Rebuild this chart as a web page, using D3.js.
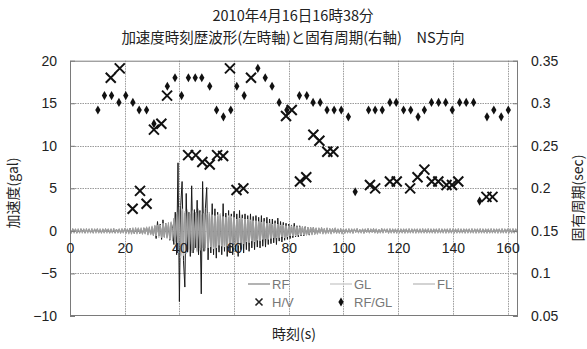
<!DOCTYPE html>
<html>
<head>
<meta charset="utf-8">
<script src="https://cdn.jsdelivr.net/npm/d3@7"></script>
<style>
  html, body { margin: 0; padding: 0; background: #fff; }
  svg { display: block; font-family: "Noto Sans CJK JP", "Noto Sans", sans-serif; }
</style>
</head>
<body>
<svg id="chart" width="587" height="349"></svg>
<script>
// ---- chart text ----
const titleLines = ["2010年4月16日16時38分", "加速度時刻歴波形(左時軸)と固有周期(右軸)\u3000NS方向"];
const leftTitle = "加速度(gal)";
const rightTitle = "固有周期(sec)";
const bottomTitle = "時刻(s)";

// ---- axis ticks ----
const timeTicks = [0, 20, 40, 60, 80, 100, 120, 140, 160];
const accelTicks = [-10, -5, 0, 5, 10, 15, 20];
const periodTicks = [0.05, 0.1, 0.15, 0.2, 0.25, 0.3, 0.35];

// ---- H/V peak period (sec) ----
const hvTime = [14.9, 18.2, 22.9, 25.6, 28.0, 30.7, 33.4, 35.5, 43.2, 46.0, 48.4, 51.1, 53.8, 56.0,
  58.5, 60.9, 63.4, 66.2, 79.0, 81.1, 84.1, 86.4, 89.0, 91.2, 94.1, 96.3, 109.7, 111.6, 117.0, 119.5,
  124.4, 127.1, 129.6, 132.3, 134.7, 137.7, 139.7, 142.0, 152.3, 154.5];
const hvPeriod = [0.330, 0.341, 0.176, 0.197, 0.182, 0.269, 0.276, 0.309, 0.239, 0.239, 0.231, 0.228, 0.239, 0.238,
  0.341, 0.198, 0.200, 0.330, 0.285, 0.292, 0.208, 0.213, 0.263, 0.256, 0.243, 0.243, 0.204, 0.200, 0.208, 0.208,
  0.200, 0.213, 0.222, 0.208, 0.208, 0.204, 0.204, 0.208, 0.190, 0.190];

// ---- RF/GL spectral ratio peak period (sec) ----
const ratioTime = [10.2, 12.6, 15.2, 17.9, 20.4, 23.0, 25.3, 28.0, 30.7, 35.6, 38.4, 40.8, 43.3, 45.8,
  48.2, 51.1, 53.6, 56.1, 58.8, 61.0, 63.7, 68.7, 71.4, 73.9, 76.5, 79.3, 83.9, 86.6, 88.9, 91.5,
  94.0, 96.6, 99.2, 101.8, 104.3, 109.2, 111.6, 114.2, 117.0, 119.3, 122.0, 124.6, 127.3, 129.6, 132.2,
  134.8, 137.4, 139.8, 142.5, 144.9, 147.6, 149.8, 152.5, 155.0, 157.7, 160.3];
const ratioPeriod = [0.292, 0.309, 0.309, 0.301, 0.309, 0.301, 0.292, 0.292, 0.276, 0.320, 0.330, 0.309, 0.330, 0.330,
  0.330, 0.320, 0.292, 0.284, 0.292, 0.320, 0.309, 0.341, 0.330, 0.320, 0.301, 0.292, 0.309, 0.309, 0.301, 0.301,
  0.292, 0.292, 0.292, 0.284, 0.196, 0.292, 0.292, 0.292, 0.301, 0.301, 0.292, 0.292, 0.284, 0.292, 0.301,
  0.301, 0.301, 0.292, 0.301, 0.301, 0.301, 0.185, 0.284, 0.292, 0.284, 0.292];

// ---- acceleration records (gal), one value every 0.5 s from t = 0 ----
const sampleStep = 0.5;
const rfWave = [
  0.1,-0.2,0.2,-0.1,0.2,-0.2,0.1,-0.2,0.2,-0.1,0.2,-0.2,0.1,-0.1,0.2,-0.2,0.1,-0.2,0.2,-0.1,
  0.2,-0.2,0.1,-0.2,0.2,-0.2,0.2,-0.1,0.2,-0.2,0.2,-0.2,0.1,-0.2,0.2,-0.2,0.2,-0.2,0.1,-0.2,
  0.2,-0.2,0.2,-0.2,0.3,-0.2,0.2,-0.3,0.2,-0.2,0.3,-0.3,0.2,-0.3,0.3,-0.3,0.4,-0.3,0.3,-0.4,
  0.4,-0.5,0.6,-0.9,1.1,-0.6,0.8,-1.0,1.3,-0.7,0.9,-0.8,0.7,-1.1,1.0,0.3,-1.6,2.2,-2.8,8.0,
  -8.3,3.0,5.8,-3.5,-6.6,4.4,-2.5,2.2,-3.0,5.3,-2.6,2.5,-2.0,3.6,-2.8,2.4,-7.4,5.8,-2.4,2.6,
  5.1,-3.4,2.2,-2.6,3.2,-2.8,2.6,-3.2,2.2,-2.5,2.0,-2.8,3.2,-2.4,2.1,-3.0,2.4,-2.6,2.0,-2.8,
  2.3,-2.4,2.0,-3.0,2.4,-2.2,1.9,-2.6,2.0,-2.2,1.8,-2.4,2.0,-2.0,1.7,-2.2,1.8,-1.9,1.6,-2.0,
  1.8,-1.8,1.5,-1.9,1.6,-1.6,1.4,-1.5,1.4,-1.4,1.2,-1.6,1.5,-1.2,1.1,-1.3,1.0,-1.1,0.9,-1.0,
  0.8,-0.9,0.7,-0.8,0.9,-0.7,0.6,-0.7,0.6,-0.6,0.5,-0.6,0.5,-0.5,0.4,-0.5,0.4,-0.4,0.4,-0.4,
  0.3,-0.3,0.3,-0.2,0.3,-0.3,0.2,-0.3,0.3,-0.2,0.2,-0.3,0.2,-0.2,0.3,-0.2,0.2,-0.2,0.2,-0.3,
  0.2,-0.2,0.2,-0.2,0.1,-0.2,0.2,-0.2,0.2,-0.1,0.2,-0.2,0.1,-0.2,0.2,-0.2,0.2,-0.1,0.2,-0.2,
  0.2,-0.1,0.2,-0.2,0.2,-0.2,0.1,-0.2,0.2,-0.2,0.2,-0.1,0.2,-0.2,0.1,-0.2,0.2,-0.2,0.2,-0.1,
  0.1,-0.2,0.2,-0.2,0.2,-0.1,0.2,-0.2,0.1,-0.2,0.2,-0.2,0.2,-0.1,0.2,-0.2,0.2,-0.2,0.1,-0.2,
  0.2,-0.2,0.1,-0.2,0.2,-0.2,0.2,-0.1,0.2,-0.2,0.1,-0.2,0.2,-0.2,0.2,-0.1,0.2,-0.2,0.1,-0.2,
  0.2,-0.1,0.2,-0.2,0.1,-0.2,0.2,-0.2,0.2,-0.1,0.2,-0.2,0.2,-0.2,0.1,-0.2,0.2,-0.1,0.2,-0.2,
  0.1,-0.2,0.2,-0.2,0.2,-0.1,0.2,-0.2,0.1,-0.2,0.2,-0.2,0.2,-0.1,0.2,-0.2,0.1,-0.2,0.2,-0.2,
  0.2,-0.1,0.2,-0.2,0.1,-0.2,0.2,-0.1
];
const glWave = [
  0.3,-0.2,0.2,-0.3,0.3,-0.2,0.3,-0.3,0.2,-0.3,0.3,-0.2,0.2,-0.3,0.3,-0.3,0.2,-0.2,0.3,-0.3,
  0.2,-0.3,0.3,-0.2,0.3,-0.3,0.2,-0.3,0.3,-0.2,0.3,-0.3,0.3,-0.2,0.2,-0.3,0.3,-0.3,0.2,-0.3,
  0.3,-0.3,0.3,-0.4,0.3,-0.3,0.4,-0.3,0.3,-0.4,0.4,-0.3,0.4,-0.4,0.3,-0.4,0.5,-0.4,0.4,-0.5,
  0.6,-0.5,0.7,-0.6,0.6,-0.8,0.7,-0.7,0.9,-0.7,0.8,-0.9,0.8,-1.0,1.1,-0.9,1.4,-1.5,2.2,-2.6,
  2.8,-3.2,2.6,-2.9,2.3,-2.7,2.5,-2.4,2.2,-2.6,2.4,-2.2,2.1,-2.5,2.6,-2.3,2.2,-2.1,2.0,-2.3,
  2.1,-2.0,2.2,-1.9,1.9,-2.1,1.8,-2.0,1.9,-1.7,2.0,-1.8,1.7,-1.9,1.6,-1.8,1.8,-1.6,1.7,-1.5,
  1.6,-1.6,1.4,-1.7,1.5,-1.4,1.5,-1.5,1.4,-1.3,1.4,-1.4,1.3,-1.2,1.2,-1.3,1.2,-1.1,1.1,-1.2,
  1.0,-1.0,1.1,-0.9,0.9,-1.0,0.9,-0.9,0.8,-0.8,0.9,-0.8,0.8,-0.8,0.7,-0.7,0.7,-0.8,0.6,-0.7,
  0.6,-0.6,0.6,-0.6,0.5,-0.6,0.5,-0.5,0.5,-0.5,0.5,-0.5,0.4,-0.5,0.4,-0.4,0.4,-0.5,0.4,-0.4,
  0.4,-0.4,0.4,-0.3,0.4,-0.4,0.3,-0.4,0.4,-0.3,0.3,-0.4,0.3,-0.3,0.4,-0.3,0.3,-0.3,0.3,-0.4,
  0.3,-0.3,0.3,-0.3,0.2,-0.3,0.3,-0.3,0.3,-0.2,0.3,-0.3,0.2,-0.3,0.3,-0.3,0.3,-0.2,0.3,-0.3,
  0.3,-0.2,0.3,-0.3,0.3,-0.3,0.2,-0.3,0.3,-0.3,0.3,-0.2,0.3,-0.3,0.2,-0.3,0.3,-0.3,0.3,-0.2,
  0.2,-0.3,0.3,-0.3,0.3,-0.2,0.3,-0.3,0.2,-0.3,0.3,-0.3,0.3,-0.2,0.3,-0.3,0.3,-0.3,0.2,-0.3,
  0.3,-0.3,0.2,-0.3,0.3,-0.3,0.3,-0.2,0.3,-0.3,0.2,-0.3,0.3,-0.3,0.3,-0.2,0.3,-0.3,0.2,-0.3,
  0.3,-0.2,0.3,-0.3,0.2,-0.3,0.3,-0.3,0.3,-0.2,0.3,-0.3,0.3,-0.3,0.2,-0.3,0.3,-0.2,0.3,-0.3,
  0.2,-0.3,0.3,-0.3,0.3,-0.2,0.3,-0.3,0.2,-0.3,0.3,-0.3,0.3,-0.2,0.3,-0.3,0.2,-0.3,0.3,-0.3,
  0.3,-0.2,0.3,-0.3,0.2,-0.3,0.3,-0.2
];
const flWave = [
  0.2,-0.3,0.3,-0.2,0.2,-0.3,0.2,-0.2,0.3,-0.2,0.2,-0.3,0.3,-0.2,0.2,-0.2,0.3,-0.3,0.2,-0.2,
  0.3,-0.2,0.2,-0.3,0.2,-0.2,0.3,-0.2,0.2,-0.3,0.2,-0.2,0.3,-0.3,0.2,-0.2,0.2,-0.3,0.3,-0.2,
  0.3,-0.3,0.2,-0.3,0.3,-0.4,0.3,-0.3,0.4,-0.3,0.3,-0.3,0.3,-0.4,0.4,-0.3,0.4,-0.5,0.5,-0.4,
  0.5,-0.6,0.6,-0.5,0.7,-0.6,0.6,-0.8,0.7,-0.8,0.9,-0.7,1.0,-0.9,0.9,-1.2,1.5,-1.3,2.0,-2.2,
  2.5,-2.9,2.4,-2.6,2.1,-2.4,2.3,-2.2,2.0,-2.3,2.1,-2.0,2.2,-2.3,2.3,-2.0,1.9,-2.0,2.1,-2.0,
  1.9,-1.8,2.0,-1.8,1.8,-1.9,1.7,-1.8,1.7,-1.6,1.8,-1.7,1.6,-1.7,1.5,-1.6,1.6,-1.5,1.5,-1.4,
  1.5,-1.4,1.3,-1.5,1.4,-1.3,1.3,-1.4,1.3,-1.2,1.3,-1.2,1.2,-1.1,1.1,-1.2,1.1,-1.0,1.0,-1.1,
  0.9,-0.9,1.0,-0.8,0.8,-0.9,0.8,-0.8,0.7,-0.8,0.8,-0.7,0.7,-0.7,0.6,-0.7,0.6,-0.7,0.6,-0.6,
  0.5,-0.6,0.5,-0.5,0.5,-0.5,0.5,-0.4,0.4,-0.5,0.4,-0.4,0.4,-0.4,0.4,-0.4,0.3,-0.4,0.4,-0.3,
  0.3,-0.4,0.3,-0.3,0.4,-0.3,0.3,-0.3,0.3,-0.3,0.3,-0.3,0.3,-0.2,0.3,-0.3,0.2,-0.3,0.3,-0.3,
  0.2,-0.3,0.2,-0.2,0.3,-0.2,0.2,-0.3,0.2,-0.2,0.3,-0.2,0.2,-0.2,0.2,-0.3,0.2,-0.2,0.3,-0.2,
  0.2,-0.2,0.3,-0.2,0.2,-0.3,0.2,-0.2,0.3,-0.2,0.2,-0.2,0.2,-0.3,0.3,-0.2,0.2,-0.2,0.2,-0.3,
  0.3,-0.2,0.2,-0.2,0.2,-0.3,0.2,-0.2,0.3,-0.2,0.2,-0.2,0.2,-0.3,0.2,-0.2,0.2,-0.2,0.3,-0.2,
  0.2,-0.2,0.3,-0.2,0.2,-0.2,0.2,-0.3,0.2,-0.2,0.3,-0.2,0.2,-0.2,0.2,-0.3,0.2,-0.2,0.3,-0.2,
  0.2,-0.3,0.2,-0.2,0.3,-0.2,0.2,-0.2,0.2,-0.3,0.2,-0.2,0.2,-0.2,0.3,-0.2,0.2,-0.3,0.2,-0.2,
  0.3,-0.2,0.2,-0.2,0.2,-0.3,0.2,-0.2,0.3,-0.2,0.2,-0.2,0.2,-0.3,0.2,-0.2,0.3,-0.2,0.2,-0.2,
  0.2,-0.3,0.2,-0.2,0.3,-0.2,0.2,-0.2
];

// ---- layout ----
const plot = { left: 70, right: 518, top: 60.7, bottom: 316 };
const svg = d3.select("#chart");

const x = d3.scaleLinear().domain([0, 163.84]).range([plot.left, plot.right]);
const yAcc = d3.scaleLinear().domain([-10, 20]).range([plot.bottom, plot.top]);
const yPer = d3.scaleLinear().domain([0.05, 0.35]).range([plot.bottom, plot.top]);

// plot background
svg.append("rect")
  .attr("x", plot.left).attr("y", plot.top)
  .attr("width", plot.right - plot.left).attr("height", plot.bottom - plot.top)
  .attr("fill", "#fff");

// dotted grid
const grid = svg.append("g").attr("stroke", "#9a9a9a").attr("stroke-width", 1).attr("stroke-dasharray", "1.5,1");
grid.selectAll("line.v").data(timeTicks.filter(t => t > 0)).join("line")
  .attr("x1", d => Math.round(x(d)) + 0.5).attr("x2", d => Math.round(x(d)) + 0.5)
  .attr("y1", plot.top).attr("y2", plot.bottom);
grid.selectAll("line.h").data(accelTicks.filter(v => v > -10 && v < 20)).join("line")
  .attr("y1", d => Math.round(yAcc(d)) + 0.5).attr("y2", d => Math.round(yAcc(d)) + 0.5)
  .attr("x1", plot.left).attr("x2", plot.right);

// waveforms, clipped to the plot area
svg.append("clipPath").attr("id", "plotClip").append("rect")
  .attr("x", plot.left).attr("y", plot.top)
  .attr("width", plot.right - plot.left).attr("height", plot.bottom - plot.top);

const wave = d3.line().x((d, i) => x(i * sampleStep)).y(d => yAcc(d));
const waves = svg.append("g").attr("clip-path", "url(#plotClip)").attr("fill", "none");
waves.append("path").datum(rfWave).attr("d", wave).attr("stroke", "#1a1a1a").attr("stroke-width", 1);
waves.append("path").datum(glWave).attr("d", wave).attr("stroke", "#bdbdbd").attr("stroke-width", 1);
waves.append("path").datum(flWave).attr("d", wave).attr("stroke", "#9c9c9c").attr("stroke-width", 1);

// RF/GL diamonds
const diamond = d3.symbol().type(d3.symbolDiamond).size(24);
svg.append("g").selectAll("path").data(ratioTime).join("path")
  .attr("d", diamond)
  .attr("transform", (d, i) => `translate(${x(d)},${yPer(ratioPeriod[i])})`)
  .attr("fill", "#111");

// H/V crosses
const crossPath = "M-5,-5L5,5M-5,5L5,-5";
svg.append("g").selectAll("path").data(hvTime).join("path")
  .attr("d", crossPath)
  .attr("transform", (d, i) => `translate(${x(d)},${yPer(hvPeriod[i])})`)
  .attr("stroke", "#111").attr("stroke-width", 2).attr("fill", "none");

// plot frame
svg.append("rect")
  .attr("x", plot.left + 0.5).attr("y", plot.top + 0.5)
  .attr("width", plot.right - plot.left - 1).attr("height", plot.bottom - plot.top - 1)
  .attr("fill", "none").attr("stroke", "#7a7a7a").attr("stroke-width", 1);

// axes
function styleAxis(g) {
  g.select(".domain").remove();
  g.selectAll(".tick line").attr("stroke", "#7a7a7a");
  g.selectAll(".tick text").attr("fill", "#222").style("font-size", "14px")
    .style("font-family", "'Liberation Sans', Arial, sans-serif");
}

svg.append("g").attr("transform", `translate(${plot.left},0)`)
  .call(d3.axisLeft(yAcc).tickValues(accelTicks).tickSizeInner(-5).tickSizeOuter(0).tickPadding(13)
    .tickFormat(d3.format("d")))
  .call(styleAxis);

svg.append("g").attr("transform", `translate(${plot.right},0)`)
  .call(d3.axisRight(yPer).tickValues(periodTicks).tickSizeInner(-5).tickSizeOuter(0).tickPadding(13)
    .tickFormat(d => String(+d.toFixed(2))))
  .call(styleAxis);

svg.append("g").attr("transform", `translate(0,${yAcc(0)})`)
  .call(d3.axisBottom(x).tickValues(timeTicks).tickSize(0).tickPadding(12).tickFormat(d3.format("d")))
  .call(styleAxis);

// titles
svg.append("g").selectAll("text").data(titleLines).join("text")
  .attr("x", 293).attr("y", (d, i) => 21 + i * 22)
  .attr("text-anchor", "middle").attr("fill", "#222").style("font-size", "14.5px")
  .text(d => d);

svg.append("text")
  .attr("transform", "translate(18,193) rotate(-90)")
  .attr("text-anchor", "middle").attr("fill", "#222").style("font-size", "14px")
  .text(leftTitle);

svg.append("text")
  .attr("transform", "translate(583,198) rotate(-90)")
  .attr("text-anchor", "middle").attr("fill", "#222").style("font-size", "14px")
  .text(rightTitle);

svg.append("text")
  .attr("x", 294).attr("y", 339)
  .attr("text-anchor", "middle").attr("fill", "#222").style("font-size", "14px")
  .text(bottomTitle);

// legend
const legendLines = [
  { label: "RF", color: "#9a9a9a", x0: 248, row: 0 },
  { label: "GL", color: "#d0d0d0", x0: 330, row: 0 },
  { label: "FL", color: "#c4c4c4", x0: 413, row: 0 }
];
const legendRowY = [284, 302];
const legend = svg.append("g").style("font-size", "13px")
  .style("font-family", "'Liberation Sans', Arial, sans-serif");
legendLines.forEach(d => {
  legend.append("line").attr("x1", d.x0).attr("x2", d.x0 + 22)
    .attr("y1", legendRowY[d.row]).attr("y2", legendRowY[d.row])
    .attr("stroke", d.color).attr("stroke-width", 1.5);
  legend.append("text").attr("x", d.x0 + 24).attr("y", legendRowY[d.row])
    .attr("dominant-baseline", "central").attr("fill", "#777").text(d.label);
});
legend.append("path").attr("d", "M-3.5,-3.5L3.5,3.5M-3.5,3.5L3.5,-3.5")
  .attr("transform", `translate(259,${legendRowY[1]})`)
  .attr("stroke", "#222").attr("stroke-width", 1.6);
legend.append("text").attr("x", 272).attr("y", legendRowY[1])
  .attr("dominant-baseline", "central").attr("fill", "#777").text("H/V");
legend.append("path").attr("d", diamond)
  .attr("transform", `translate(341,${legendRowY[1]})`).attr("fill", "#111");
legend.append("text").attr("x", 354).attr("y", legendRowY[1])
  .attr("dominant-baseline", "central").attr("fill", "#777").text("RF/GL");
</script>
</body>
</html>
